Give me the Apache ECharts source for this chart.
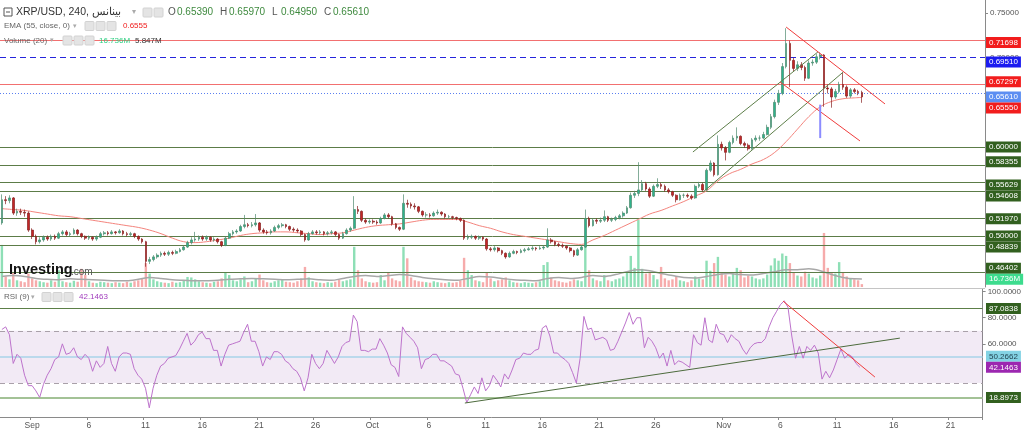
<!DOCTYPE html>
<html><head><meta charset="utf-8">
<script src="https://cdn.jsdelivr.net/npm/echarts@6/dist/echarts.min.js"></script>
<style>html,body{margin:0;padding:0;background:#fff}#c{width:1024px;height:430px}</style>
</head><body><div id="c"></div>
<script>
// ---------- DATA ----------
const slotStartUTC = Date.UTC(2023, 7, 29, 8); // first slot: 2023-08-29 08:00
const slotHours = 8;
const slotCount = 260;
const tickDays = ['2023-09-01','2023-09-06','2023-09-11','2023-09-16','2023-09-21','2023-09-26','2023-10-01','2023-10-06','2023-10-11','2023-10-16','2023-10-21','2023-10-26','2023-11-01','2023-11-06','2023-11-11','2023-11-16','2023-11-21'];
const tickText = ['Sep','6','11','16','21','26','Oct','6','11','16','21','26','Nov','6','11','16','21'];

// candles [open, close, low, high]
const candlesA = [
[.515,.541,.513,.547],[.541,.540,.536,.545],[.540,.543,.537,.546],[.543,.526,.524,.544],[.526,.528,.523,.531],[.528,.527,.524,.531],[.527,.526,.522,.530],[.526,.507,.505,.528],[.507,.500,.497,.509],[.500,.494,.491,.502],
[.494,.496,.492,.499],[.496,.499,.494,.501],[.499,.497,.495,.501],[.497,.500,.495,.502],[.500,.498,.496,.502],[.498,.503,.497,.505],[.503,.505,.501,.507],[.505,.502,.500,.507],[.502,.503,.500,.505],[.503,.507,.502,.509],
[.507,.503,.501,.508],[.503,.500,.498,.504],[.500,.498,.496,.501],[.498,.499,.496,.501],[.499,.497,.495,.500],[.497,.499,.495,.501],[.499,.503,.498,.505],[.503,.504,.501,.506],[.504,.503,.501,.506],[.503,.505,.502,.507],
[.505,.504,.502,.506],[.504,.506,.503,.508],[.506,.503,.501,.507],[.503,.502,.500,.505],[.502,.503,.500,.505],[.503,.500,.498,.504],[.500,.497,.495,.501],[.497,.494,.492,.498],[.494,.472,.466,.495],[.472,.474,.469,.477],
[.474,.477,.472,.479],[.477,.479,.475,.481],[.479,.481,.477,.483],[.481,.480,.478,.483],[.480,.482,.478,.484],[.482,.481,.479,.484],[.481,.483,.480,.485],[.483,.485,.482,.487],[.485,.488,.484,.490],[.488,.493,.487,.495],
[.493,.496,.491,.499],[.496,.497,.494,.505],[.497,.499,.495,.501],[.499,.497,.495,.501],[.497,.499,.495,.501],[.499,.496,.494,.500],[.496,.497,.494,.499],[.497,.494,.492,.498],[.494,.490,.488,.495],[.490,.498,.489,.500],
[.498,.503,.497,.505],[.503,.505,.501,.507],[.505,.506,.503,.508],[.506,.511,.505,.513],[.511,.513,.509,.524],[.513,.512,.510,.515],[.512,.513,.510,.516],[.513,.515,.511,.525],[.515,.507,.505,.516],[.507,.505,.503,.509],
[.505,.504,.502,.507],[.504,.506,.502,.508],[.506,.510,.505,.512],[.510,.512,.508,.514],[.512,.513,.510,.515],[.513,.511,.509,.514]
];
const candlesB = [
[.511,.508,.506,.512],[.508,.507,.505,.510],[.507,.506,.504,.509],[.506,.502,.500,.507],
[.502,.496,.494,.503],[.496,.503,.495,.505],[.503,.505,.502,.507],[.505,.504,.502,.507],[.504,.505,.502,.507],[.505,.503,.501,.506],[.503,.504,.501,.506],[.504,.505,.502,.507],[.505,.502,.500,.506],[.502,.498,.496,.503],
[.498,.503,.497,.505],[.503,.507,.502,.509],[.507,.509,.505,.511],[.509,.530,.508,.545],[.530,.528,.525,.534],[.528,.518,.516,.529],[.518,.516,.514,.520],[.516,.517,.514,.519],[.517,.516,.514,.519],[.516,.515,.513,.518],
[.515,.520,.514,.522],[.520,.524,.519,.526],[.524,.522,.520,.526],[.522,.514,.512,.523],[.514,.510,.508,.515],[.510,.508,.506,.511],[.508,.537,.507,.547],[.537,.536,.532,.541],[.536,.534,.531,.538],[.534,.533,.530,.537],
[.533,.528,.526,.534],[.528,.524,.522,.529],[.524,.524,.521,.527],[.524,.523,.521,.526],[.523,.526,.522,.528],[.526,.527,.524,.530],[.527,.525,.523,.528],[.525,.522,.520,.526],[.522,.522,.520,.524],[.522,.521,.519,.523],
[.521,.520,.518,.522],[.520,.518,.516,.521],[.518,.498,.496,.519],[.498,.499,.496,.502],[.499,.500,.497,.502],[.500,.498,.496,.501],[.498,.499,.496,.501],[.499,.497,.495,.500],[.497,.486,.484,.498],[.486,.485,.483,.488],
[.485,.487,.483,.489],[.487,.484,.482,.488],[.484,.481,.479,.485],[.481,.477,.475,.482],[.477,.481,.476,.483],[.481,.483,.480,.485],[.483,.482,.480,.484],[.482,.484,.481,.486],[.484,.485,.482,.487],[.485,.486,.484,.488],
[.486,.487,.484,.489],[.487,.486,.484,.488],[.486,.487,.485,.489],[.487,.488,.485,.490],[.488,.496,.487,.509],[.496,.494,.492,.498],[.494,.491,.489,.495],[.491,.490,.488,.493],[.490,.489,.487,.492],[.489,.487,.485,.490],
[.487,.484,.482,.488],[.484,.479,.477,.485]
];
const candlesC = [
[.479,.485,.478,.487],[.485,.488,.484,.490],[.488,.520,.487,.530],[.520,.512,.510,.522],[.512,.518,.511,.520],[.518,.517,.514,.520],[.517,.518,.515,.521],[.518,.522,.516,.529],
[.522,.518,.516,.523],[.518,.519,.516,.521],[.519,.521,.517,.523],[.521,.523,.519,.525],[.523,.526,.521,.528],[.526,.532,.525,.534],[.532,.546,.531,.549],[.546,.548,.543,.551],[.548,.552,.545,.583],[.552,.559,.550,.563],
[.559,.553,.551,.561],[.553,.545,.543,.555],[.545,.556,.544,.558],[.556,.558,.554,.565],[.558,.556,.553,.560],[.556,.552,.550,.558],[.552,.550,.548,.554],[.550,.546,.544,.551],[.546,.541,.538,.547],[.541,.546,.540,.548],
[.546,.546,.543,.548],[.546,.545,.543,.548],[.545,.543,.541,.547],[.543,.556,.542,.558],[.556,.558,.554,.561],[.558,.552,.550,.560],[.552,.574,.551,.576],[.574,.582,.572,.585],[.582,.569,.567,.583],[.569,.603,.568,.613],
[.603,.599,.596,.606],[.599,.594,.585,.601],[.594,.605,.593,.607],[.605,.610,.603,.613],[.610,.612,.607,.622],[.612,.604,.602,.613],[.604,.602,.599,.606],[.602,.598,.596,.604],[.598,.608,.597,.610],[.608,.610,.606,.613],
[.610,.610,.607,.613],[.610,.614,.609,.617],[.614,.622,.613,.625],[.622,.634,.620,.637],[.634,.650,.632,.653],[.650,.660,.647,.664],[.660,.690,.658,.694],[.690,.716,.688,.733],[.716,.697,.667,.719],[.697,.688,.684,.700],
[.688,.692,.685,.696],[.692,.689,.686,.695],[.689,.677,.674,.691],[.677,.694,.676,.697],[.694,.695,.691,.698],[.695,.701,.693,.704],[.701,.703,.698,.706],[.703,.666,.645,.704],[.666,.665,.660,.670],[.665,.656,.644,.667],
[.656,.662,.654,.665],[.662,.670,.660,.673],[.670,.667,.664,.683],[.667,.657,.655,.669],[.657,.664,.655,.666],[.664,.662,.660,.666],[.662,.661,.658,.664],[.661,.6561,.6495,.663]
];

// volume (millions)
const volumes = [
88,22,16,30,14,12,10,28,18,14, 12,10,9,14,11,35,12,10,9,13, 11,38,25,12,9,8,11,10,9,8, 10,9,8,11,9,12,14,18,50,28,
16,12,10,9,8,11,9,10,14,21, 20,16,12,10,9,8,11,12,18,30, 25,14,12,16,22,10,12,18,26,14, 10,9,12,14,16,11,10,9,12,18,
42,20,12,10,9,8,10,9,11,16, 12,14,16,84,35,18,12,10,9,10, 25,14,30,18,14,12,84,60,20,14, 12,11,10,9,12,10,9,8,10,9,
10,14,61,35,25,14,12,10,30,18, 12,14,16,20,14,10,9,8,10,9, 8,10,12,46,52,20,14,12,10,9, 12,16,14,12,85,35,18,14,12,25,
14,12,16,18,22,30,65,40,140,38, 28,30,25,16,42,18,14,16,22,14, 12,10,14,22,18,16,55,34,50,63, 30,26,22,28,40,35,20,24,22,18,
16,18,26,45,60,55,70,65,50,30, 24,22,32,28,20,18,24,113,40,30, 28,52,30,22,18,16,14,6
];
// volume MA(20), one reading per day
const volMaDaily = [
22,24,22,18,16,15,17,16,15,14, 13,13,16,20,18,15,14,13,13,14, 16,17,18,17,16,15,16,17,15,14,
18,22,24,22,24,26,24,20,17,15, 14,18,22,21,18,15,14,13,18,20, 18,20,24,22,26,32,36,34,28,24,
20,19,22,26,28,26,25,28,32,36, 36,38,34,26,20,17
];
const volMaLast = 16.736;
const volLast = 5.847;

// EMA(55) readings, one per day
const emaDaily = [
0.531,0.530,0.529,0.527,0.525,0.523,0.522,0.520,0.518,0.516,
0.514,0.512,0.510,0.507,0.503,0.498,0.494,0.493,0.494,0.496,
0.498,0.501,0.503,0.504,0.505,0.505,0.504,0.503,0.502,0.503,
0.504,0.507,0.510,0.512,0.513,0.514,0.516,0.518,0.519,0.519,
0.519,0.516,0.512,0.509,0.505,0.502,0.500,0.498,0.496,0.494,
0.492,0.491,0.496,0.501,0.507,0.513,0.519,0.525,0.529,0.534,
0.539,0.545,0.551,0.562,0.570,0.575,0.581,0.586,0.594,0.606,
0.620,0.634,0.645,0.651,0.654,0.655
];
const emaLast = 0.6555;

// RSI(9)
const rsi = [
71,73,67,45,52,49,36,28,28,24, 19,29,36,41,48,50,60,52,53,57, 50,48,52,49,39,47,42,45,58,45, 39,50,53,53,52,41,36,33,26,11,
26,36,43,45,49,50,51,56,62,68, 59,62,67,69,64,64,55,55,43,52, 59,60,61,62,69,75,62,62,54,43, 50,48,54,54,52,47,45,41,39,34,
24,34,52,45,41,45,55,50,45,50, 58,61,62,82,77,55,55,54,56,56, 64,59,53,44,42,35,73,68,65,62, 57,41,48,49,52,52,47,47,45,43,
37,36,26,15,21,27,22,34,24,28, 36,32,27,37,33,40,48,49,53,52, 52,55,56,72,74,66,53,53,50,48, 45,38,30,49,81,71,72,63,64,65,
63,55,56,62,69,76,84,75,80,80, 57,65,62,57,49,53,43,55,44,47, 46,44,42,67,61,59,80,63,61,75, 68,67,61,67,64,62,56,52,57,60,
61,61,64,73,80,85,90,93,88,66, 49,58,49,58,55,59,53,33,39,34, 40,48,56,49,52,50,45,42.1463
];

// header values
const ohlcHeader = ['0.65390','0.65970','0.64950','0.65610'];

// horizontal levels
const redLevels = [0.71698, 0.67297];
const blueDashLevel = 0.69510;
const lastPrice = 0.65610;
const greenLevels = [0.60000, 0.58355, 0.55629, 0.54608, 0.51970, 0.50000, 0.48839, 0.46402];
const rsiLevels = {upper: 87.0838, mid: 50.2662, lower: 18.8973, bandHigh: 70, bandLow: 30};

// drawings: [slot index, value]
const chanUpper = [[182.4, 0.5944], [215.4, 0.7064]];
const chanLower = [[185.1, 0.5497], [222.1, 0.6840]];
const redUpper  = [[207.0, 0.7343], [233.1, 0.6482]];
const redLower  = [[205.4, 0.6728], [226.5, 0.6068]];
const blueWick  = [[216.0, 0.6474], [216.0, 0.6100]];
const rsiTrendUp = [[122.5, 14.7], [237.6, 64.4]];
const rsiTrendDn = [[206.7, 92.7], [231.0, 34.6]];

// ---------- BUILD ----------
const categories = [];
for (let i = 0; i < slotCount; i++) {
  const d = new Date(slotStartUTC + i * slotHours * 3600e3);
  categories.push(d.toISOString().slice(0, 13).replace('T', ' ') + ':00');
}
const tickMap = {};
tickDays.forEach((d, k) => { tickMap[d + ' 00:00'] = tickText[k]; });
const isTick = (idx, val) => tickMap[val] !== undefined;

const candles = candlesA.concat(candlesB, candlesC);
const volData = volumes.map((v, i) => ({
  value: v,
  itemStyle: {color: candles[i][1] >= candles[i][0] ? '#8edfb6' : '#f6abab'}
}));
const emaSeries = new Array(candles.length).fill(null);
emaDaily.forEach((v, k) => { emaSeries[3 * k] = v; });
emaSeries[candles.length - 1] = emaLast;
const volMaSeries = new Array(candles.length).fill(null);
volMaDaily.forEach((v, k) => { volMaSeries[3 * k] = v; });
volMaSeries[candles.length - 1] = volMaLast;

const FONT = '"Liberation Sans", Arial, sans-serif';
const hl = (v, color, type, width) => ({yAxis: v, lineStyle: {color, type: type || 'solid', width: width || 1}});

const priceMin = 0.44331, priceMax = 0.76455;

const chart = echarts.init(document.getElementById('c'), null, {renderer: 'canvas'});
const option = {
  animation: false,
  backgroundColor: '#ffffff',
  textStyle: {fontFamily: FONT},
  grid: [
    {left: 0, right: 39, top: 0, height: 287},
    {left: 0, right: 39, top: 0, height: 287},
    {left: 0, right: 39, top: 289, height: 128}
  ],
  xAxis: [
    {type: 'category', gridIndex: 0, data: categories, show: false},
    {type: 'category', gridIndex: 1, data: categories, show: false},
    {type: 'category', gridIndex: 2, data: categories,
      axisLine: {show: true, onZero: false, lineStyle: {color: '#8a8a8a'}},
      axisTick: {show: true, interval: isTick, length: 3, lineStyle: {color: '#8a8a8a'}},
      axisLabel: {interval: isTick, formatter: v => tickMap[v] || '', fontSize: 8.5, color: '#555', margin: 4, fontFamily: FONT},
      splitLine: {show: false}},
    {type: 'value', gridIndex: 0, min: -0.5, max: slotCount - 0.5, show: false},
    {type: 'value', gridIndex: 2, min: -0.5, max: slotCount - 0.5, show: false}
  ],
  yAxis: [
    {type: 'value', gridIndex: 0, position: 'right', min: priceMin, max: priceMax,
      axisLine: {show: true, onZero: false, lineStyle: {color: '#8a8a8a'}},
      axisTick: {show: true, customValues: [0.70, 0.75], length: 3, lineStyle: {color: '#8a8a8a'}},
      axisLabel: {customValues: [0.70, 0.75], formatter: v => v.toFixed(5), fontSize: 8, color: '#555', margin: 5, fontFamily: FONT},
      splitLine: {show: false}},
    {type: 'value', gridIndex: 1, min: 0, max: 600, show: false},
    {type: 'value', gridIndex: 2, position: 'right', min: 4, max: 102,
      axisLine: {show: true, onZero: false, lineStyle: {color: '#8a8a8a'}},
      axisTick: {show: true, customValues: [60, 80, 100], length: 3, lineStyle: {color: '#8a8a8a'}},
      axisLabel: {customValues: [60, 80, 100], formatter: v => v.toFixed(4), fontSize: 8, color: '#555', margin: 5, fontFamily: FONT},
      splitLine: {show: false}}
  ],
  series: [
    {type: 'bar', name: 'Volume', xAxisIndex: 1, yAxisIndex: 1, data: volData, barWidth: 2.4, silent: true, z: 1},
    {type: 'line', name: 'VolMA', xAxisIndex: 1, yAxisIndex: 1, data: volMaSeries, connectNulls: true, showSymbol: false, smooth: 0.3,
      lineStyle: {color: '#a8a8a8', width: 1.5}, silent: true, z: 2},
    {type: 'candlestick', name: 'XRP/USD', xAxisIndex: 0, yAxisIndex: 0, data: candles, barWidth: 2.2, z: 5,
      itemStyle: {color: '#2eb38c', color0: '#c42626', borderColor: '#4f8a6e', borderColor0: '#861f1f', borderWidth: 0.7},
      markLine: {silent: true, symbol: ['none', 'none'], label: {show: false}, z: 3,
        data: [
          ...redLevels.map(v => hl(v, '#f27070', 'solid', 1.2)),
          hl(blueDashLevel, '#2424dc', [6, 4], 1),
          hl(lastPrice, '#5a7ff0', [1, 2], 1),
          ...greenLevels.map(v => hl(v, '#5c7c48', 'solid', 1))
        ]}},
    {type: 'line', name: 'EMA', xAxisIndex: 0, yAxisIndex: 0, data: emaSeries, connectNulls: true, showSymbol: false, smooth: 0.4,
      lineStyle: {color: '#f4847d', width: 1}, silent: true, z: 4},
    {type: 'line', xAxisIndex: 3, yAxisIndex: 0, data: chanUpper, showSymbol: false, lineStyle: {color: '#5e7f4a', width: 1}, silent: true, z: 6},
    {type: 'line', xAxisIndex: 3, yAxisIndex: 0, data: chanLower, showSymbol: false, lineStyle: {color: '#5e7f4a', width: 1}, silent: true, z: 6},
    {type: 'line', xAxisIndex: 3, yAxisIndex: 0, data: redUpper, showSymbol: false, lineStyle: {color: '#f03c3c', width: 1}, silent: true, z: 6},
    {type: 'line', xAxisIndex: 3, yAxisIndex: 0, data: redLower, showSymbol: false, lineStyle: {color: '#f03c3c', width: 1}, silent: true, z: 6},
    {type: 'line', xAxisIndex: 3, yAxisIndex: 0, data: blueWick, showSymbol: false, lineStyle: {color: '#8c8cff', width: 2}, silent: true, z: 6},
    {type: 'line', name: 'RSI', xAxisIndex: 2, yAxisIndex: 2, data: rsi, showSymbol: false,
      lineStyle: {color: '#bd73cc', width: 1}, silent: true, z: 5,
      markArea: {silent: true, itemStyle: {color: 'rgba(150,80,170,0.12)'},
        data: [[{yAxis: rsiLevels.bandLow}, {yAxis: rsiLevels.bandHigh}]]},
      markLine: {silent: true, symbol: ['none', 'none'], label: {show: false},
        data: [
          hl(rsiLevels.bandHigh, '#a9a0a9', [5, 4], 1),
          hl(rsiLevels.bandLow, '#a9a0a9', [5, 4], 1),
          hl(rsiLevels.upper, '#5c7f47', 'solid', 1.2),
          hl(rsiLevels.mid, '#a9d3e8', 'solid', 1.5),
          hl(rsiLevels.lower, '#a3c296', 'solid', 2)
        ]}},
    {type: 'line', xAxisIndex: 4, yAxisIndex: 2, data: rsiTrendUp, showSymbol: false, lineStyle: {color: '#4d6b3d', width: 1}, silent: true, z: 6},
    {type: 'line', xAxisIndex: 4, yAxisIndex: 2, data: rsiTrendDn, showSymbol: false, lineStyle: {color: '#f03c3c', width: 1}, silent: true, z: 6}
  ]
};
chart.setOption(option);

// ---------- LABELS (graphic) ----------
const fmt5 = v => v.toFixed(5);
const mainLabels = [
  {axis: 0, v: redLevels[0], t: fmt5(redLevels[0]), bg: '#f21d1d', fg: '#fff'},
  {axis: 0, v: blueDashLevel, t: fmt5(blueDashLevel), bg: '#1b1bf0', fg: '#fff'},
  {axis: 0, v: redLevels[1], t: fmt5(redLevels[1]), bg: '#f21d1d', fg: '#fff'},
  {axis: 0, v: lastPrice, t: fmt5(lastPrice), bg: '#5c8ef2', fg: '#fff', fixed: true},
  {axis: 0, v: emaLast, t: fmt5(emaLast), bg: '#f21d1d', fg: '#fff'},
  ...greenLevels.map(v => ({axis: 0, v, t: fmt5(v), bg: '#32601f', fg: '#fff'})),
  {axis: 1, v: volMaLast, t: volMaLast.toFixed(3) + 'M', bg: '#3ddc8e', fg: '#fff'}
];
const rsiLabels = [
  {axis: 2, v: rsiLevels.upper, t: rsiLevels.upper.toFixed(4), bg: '#32601f', fg: '#fff'},
  {axis: 2, v: rsiLevels.mid, t: rsiLevels.mid.toFixed(4), bg: '#84d3e4', fg: '#1d3d4a'},
  {axis: 2, v: rsi[rsi.length - 1], t: rsi[rsi.length - 1].toFixed(4), bg: '#9c27b0', fg: '#fff'},
  {axis: 2, v: rsiLevels.lower, t: rsiLevels.lower.toFixed(4), bg: '#32601f', fg: '#fff'}
];
function place(list, H) {
  list.forEach(l => { l.y = chart.convertToPixel({yAxisIndex: l.axis}, l.v); });
  list.sort((a, b) => a.y - b.y);
  for (let pass = 0; pass < 3; pass++) {
    for (let i = 1; i < list.length; i++) {
      const a = list[i - 1], b = list[i];
      if (b.y - a.y < H) {
        if (a.fixed) b.y = a.y + H;
        else if (b.fixed) a.y = b.y - H;
        else { const m = (a.y + b.y) / 2; a.y = m - H / 2; b.y = m + H / 2; }
      }
    }
  }
}
place(mainLabels, 11);
place(rsiLabels, 11);
const gridRight = 985;
const graphics = [];
// pane separator
graphics.push({type: 'line', shape: {x1: 0, y1: 288.5, x2: gridRight, y2: 288.5}, z: 50, style: {stroke: '#c4c4c4', lineWidth: 1}});
mainLabels.concat(rsiLabels).forEach(l => {
  graphics.push({type: 'text', x: gridRight + 1, y: l.y, z: 100,
    style: {text: l.t, fill: l.fg, backgroundColor: l.bg, padding: [2, 3, 1, 3], font: '8px ' + FONT,
      verticalAlign: 'middle', align: 'left', lineHeight: 8}});
});

function txt(x, y, text, fill, size, weight) {
  return {type: 'text', x, y, z: 100, style: {text, fill, font: (weight || 'normal') + ' ' + size + 'px ' + FONT, verticalAlign: 'middle', align: 'left'}};
}
function icon(x, y) {
  return {type: 'rect', shape: {x, y: y - 4.5, width: 9, height: 9, r: 1}, z: 100, style: {fill: '#e4e4e4', stroke: '#d2d2d2', lineWidth: 1}};
}
// header line 1
graphics.push({type: 'rect', shape: {x: 4, y: 8, width: 8, height: 8}, z: 100, style: {fill: 'none', stroke: '#555', lineWidth: 1}});
graphics.push({type: 'line', shape: {x1: 6, y1: 12, x2: 10, y2: 12}, z: 100, style: {stroke: '#555', lineWidth: 1}});
graphics.push(txt(16, 12.5, 'XRP/USD, 240, بينانس', '#333', 10.5));
graphics.push(txt(132, 12, '▾', '#aaa', 8));
graphics.push(icon(143, 12.5), icon(154, 12.5));
['O', 'H', 'L', 'C'].forEach((k, j) => {
  graphics.push(txt(168 + j * 52, 12.5, k, '#555', 10));
  graphics.push(txt(177 + j * 52, 12.5, ohlcHeader[j], '#3f8a3f', 10));
});
// header line 2 (EMA)
graphics.push(txt(4, 26, 'EMA (55, close, 0)', '#666', 8));
graphics.push(txt(73, 26, '▾', '#aaa', 7));
graphics.push(icon(85, 26), icon(96, 26), icon(107, 26));
graphics.push(txt(123, 26, emaLast.toFixed(4), '#f01c1c', 8));
// header line 3 (Volume)
graphics.push(txt(4, 40.5, 'Volume (20)', '#666', 8));
graphics.push(txt(50, 40.5, '▾', '#aaa', 7));
graphics.push(icon(63, 40.5), icon(74, 40.5), icon(85, 40.5));
graphics.push(txt(99, 40.5, volMaLast.toFixed(3) + 'M', '#2fcf82', 8));
graphics.push(txt(135, 40.5, volLast.toFixed(3) + 'M', '#333', 8));
// RSI header
graphics.push(txt(4, 297, 'RSI (9)', '#666', 8));
graphics.push(txt(31, 297, '▾', '#aaa', 7));
graphics.push(icon(42, 297), icon(53, 297), icon(64, 297));
graphics.push(txt(79, 297, rsi[rsi.length - 1].toFixed(4), '#a13dbd', 8));
// logo
graphics.push(txt(9, 270, 'Investing', '#141414', 14.5, 'bold'));
graphics.push(txt(71, 272, '.com', '#555', 10));

chart.setOption({graphic: graphics});
</script>
</body></html>
